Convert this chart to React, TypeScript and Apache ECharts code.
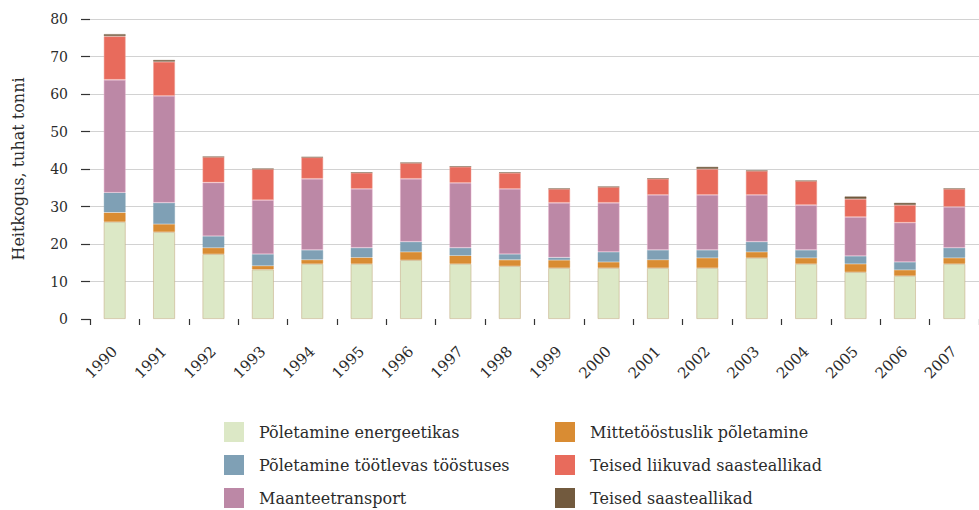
import React, { useEffect, useRef } from "react";
import * as echarts from "echarts";

const years = ["1990","1991","1992","1993","1994","1995","1996","1997","1998","1999","2000","2001","2002","2003","2004","2005","2006","2007"];

const energeetika = [25.9, 23.2, 17.3, 13.2, 14.7, 14.7, 15.7, 14.7, 14.1, 13.6, 13.6, 13.6, 13.6, 16.3, 14.7, 12.5, 11.5, 14.7];
const mittetoostuslik = [2.5, 2.1, 1.7, 1.0, 1.1, 1.7, 2.2, 2.2, 1.7, 2.1, 1.6, 2.2, 2.7, 1.6, 1.6, 2.2, 1.6, 1.6];
const tootlev = [5.3, 5.7, 3.1, 3.1, 2.6, 2.6, 2.7, 2.1, 1.5, 0.7, 2.7, 2.6, 2.1, 2.7, 2.1, 2.1, 2.1, 2.7];
const maantee = [30.1, 28.5, 14.3, 14.4, 19.0, 15.7, 16.8, 17.3, 17.4, 14.6, 13.1, 14.7, 14.7, 12.5, 12.0, 10.4, 10.5, 10.9];
const liikuvad = [11.6, 9.1, 6.8, 8.3, 5.7, 4.3, 4.2, 4.3, 4.3, 3.7, 4.2, 4.3, 6.9, 6.4, 6.4, 4.8, 4.7, 4.8];
const teised = [0.6, 0.5, 0.1, 0.1, 0.1, 0.1, 0.1, 0.1, 0.1, 0.1, 0.1, 0.1, 0.6, 0.1, 0.1, 0.7, 0.6, 0.1];

const yTicks = [0, 10, 20, 30, 40, 50, 60, 70, 80];

const legendLeft = ["Põletamine energeetikas", "Põletamine töötlevas tööstuses", "Maanteetransport"];
const legendRight = ["Mittetööstuslik põletamine", "Teised liikuvad saasteallikad", "Teised saasteallikad"];

const FONT = "DejaVu Serif";
const TEXT = "#2b2b2b";

export default function App() {
  const ref = useRef<HTMLDivElement>(null);
  useEffect(() => {
    if (!ref.current) return;
    const chart = echarts.init(ref.current, null, { renderer: "svg" });
    const mk = (name: string, data: number[], color: string, border: string) => ({
      name,
      type: "bar",
      stack: "total",
      data,
      barWidth: 22,
      itemStyle: { color, borderColor: border, borderWidth: 0.8 },
      emphasis: { disabled: true },
    });
    const splitColors = yTicks.map((_, i) => (i === 0 ? "rgba(0,0,0,0)" : "#d2d2d2"));
    const legendBase = {
      top: 422,
      height: 200,
      orient: "vertical",
      itemWidth: 20,
      itemHeight: 20,
      itemGap: 13,
      icon: "rect",
      padding: 0,
      itemStyle: { borderWidth: 0 },
      textStyle: { fontFamily: FONT, fontSize: 16, color: TEXT, padding: [0, 0, 0, 10] },
      selectedMode: false,
    };
    chart.setOption({
      animation: false,
      textStyle: { fontFamily: FONT, color: TEXT },
      grid: { left: 90, right: 0, top: 19, bottom: 191, containLabel: false },
      legend: [
        { ...legendBase, left: 224, data: legendLeft },
        { ...legendBase, left: 555, data: legendRight },
      ],
      xAxis: {
        type: "category",
        data: years,
        axisLine: { show: false },
        axisTick: { show: true, length: 6, lineStyle: { color: "#333", width: 1.2 } },
        axisLabel: { rotate: 45, fontFamily: FONT, fontSize: 15, color: TEXT, margin: 30, interval: 0 },
      },
      yAxis: {
        type: "value",
        min: 0,
        max: 80,
        interval: 10,
        name: "Heitkogus, tuhat tonni",
        nameLocation: "middle",
        nameGap: 64,
        nameTextStyle: { fontFamily: FONT, fontSize: 16, color: TEXT },
        axisLine: { show: false },
        axisTick: { show: true, length: 9, lineStyle: { color: "#333", width: 1.2 } },
        axisLabel: { fontFamily: FONT, fontSize: 14, color: TEXT, margin: 22 },
        splitLine: { show: true, lineStyle: { color: splitColors, width: 1.2 } },
      },
      series: [
        mk("Põletamine energeetikas", energeetika, "#dce8c6", "rgba(196,170,130,0.7)"),
        mk("Mittetööstuslik põletamine", mittetoostuslik, "#d98c33", "rgba(217,140,51,0.5)"),
        mk("Põletamine töötlevas tööstuses", tootlev, "#7fa0b5", "rgba(127,160,181,0.5)"),
        mk("Maanteetransport", maantee, "#bc88a6", "rgba(230,170,200,0.6)"),
        mk("Teised liikuvad saasteallikad", liikuvad, "#e86b5c", "rgba(240,160,150,0.6)"),
        mk("Teised saasteallikad", teised, "#725a3e", "rgba(114,90,62,0.5)"),
      ],
    });
    return () => chart.dispose();
  }, []);
  return <div ref={ref} style={{ position: "absolute", left: 0, top: 0, width: 979, height: 510 }} />;
}
